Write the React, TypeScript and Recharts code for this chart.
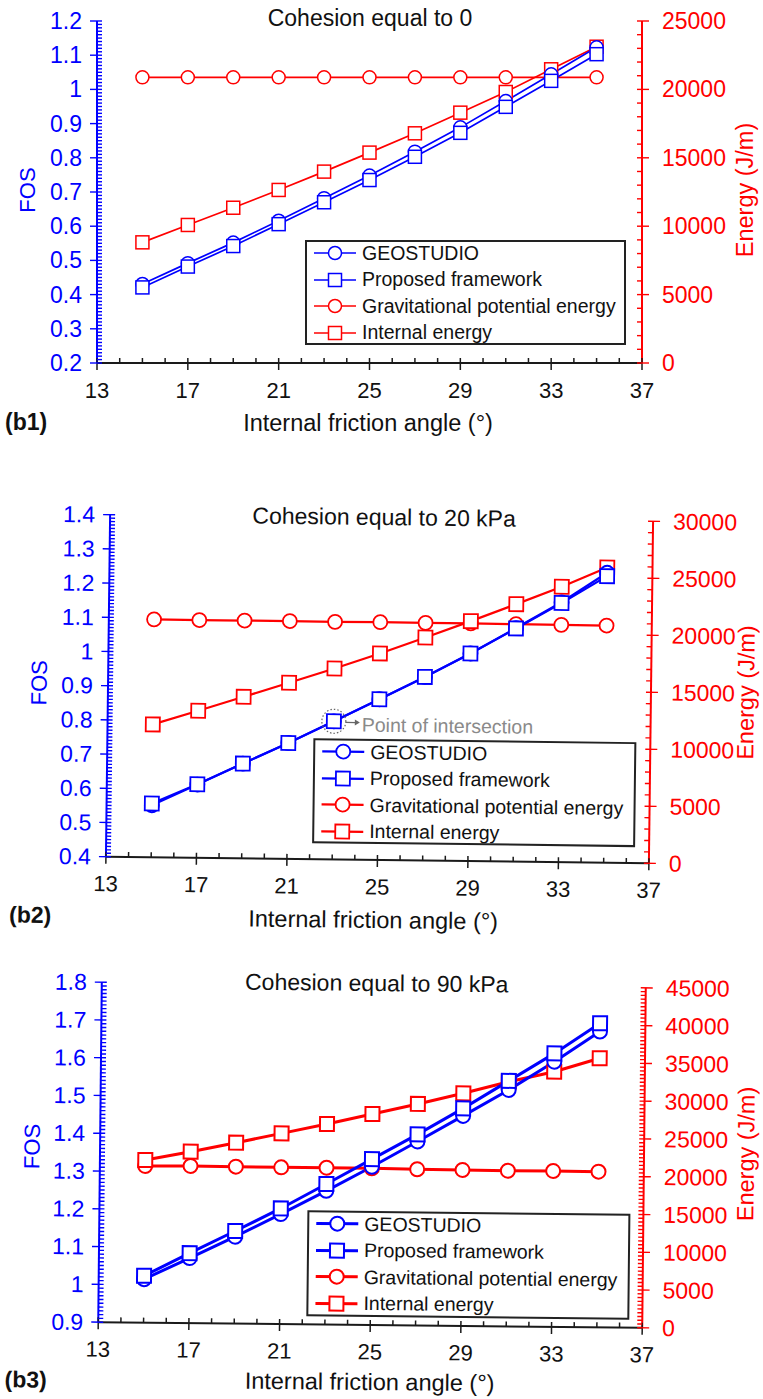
import React from 'react';
import { LineChart, Line, XAxis, YAxis, Legend, ReferenceDot } from 'recharts';

// ---- shared axis values ----
const FRICTION_ANGLES = [15, 17, 19, 21, 23, 25, 27, 29, 31, 33, 35];
const X_MAJOR_TICKS = [13, 17, 21, 25, 29, 33, 37];

// ---- (b1) cohesion = 0 ----
const FOS_GEOSTUDIO_C0 = [0.431, 0.492, 0.552, 0.616, 0.682, 0.748, 0.818, 0.889, 0.966, 1.044, 1.123];
const FOS_PROPOSED_C0 = [0.421, 0.482, 0.542, 0.606, 0.67, 0.735, 0.803, 0.873, 0.949, 1.025, 1.103];
const GPE_C0 = [20880, 20880, 20880, 20880, 20880, 20880, 20880, 20880, 20880, 20880, 20880];
const IE_C0 = [8820, 10090, 11350, 12650, 13990, 15380, 16790, 18300, 19810, 21470, 23120];
const FOS_TICKS_C0 = [0.2, 0.3, 0.4, 0.5, 0.6, 0.7, 0.8, 0.9, 1, 1.1, 1.2];
const ENERGY_TICKS_C0 = [0, 5000, 10000, 15000, 20000, 25000];

// ---- (b2) cohesion = 20 kPa ----
const FOS_GEOSTUDIO_C20 = [0.552, 0.614, 0.677, 0.739, 0.804, 0.87, 0.937, 1.007, 1.083, 1.16, 1.248];
const FOS_PROPOSED_C20 = [0.557, 0.615, 0.677, 0.739, 0.804, 0.87, 0.937, 1.007, 1.082, 1.158, 1.238];
const GPE_C20 = [20860, 20850, 20860, 20860, 20840, 20860, 20850, 20850, 20830, 20820, 20810];
const IE_C20 = [11650, 12900, 14170, 15450, 16750, 18120, 19570, 21050, 22590, 24160, 25900];
const FOS_TICKS_C20 = [0.4, 0.5, 0.6, 0.7, 0.8, 0.9, 1, 1.1, 1.2, 1.3, 1.4];
const ENERGY_TICKS_C20 = [0, 5000, 10000, 15000, 20000, 25000, 30000];

// ---- (b3) cohesion = 90 kPa ----
const FOS_GEOSTUDIO_C90 = [1.015, 1.072, 1.13, 1.191, 1.254, 1.319, 1.387, 1.456, 1.526, 1.602, 1.683];
const FOS_PROPOSED_C90 = [1.024, 1.085, 1.145, 1.206, 1.272, 1.339, 1.406, 1.476, 1.55, 1.624, 1.705];
const GPE_C90 = [20730, 20790, 20770, 20740, 20750, 20740, 20670, 20640, 20610, 20630, 20610];
const IE_C90 = [21520, 22690, 23940, 25240, 26540, 27930, 29320, 30790, 32390, 33780, 35620];
const FOS_TICKS_C90 = [0.9, 1, 1.1, 1.2, 1.3, 1.4, 1.5, 1.6, 1.7, 1.8];
const ENERGY_TICKS_C90 = [0, 5000, 10000, 15000, 20000, 25000, 30000, 35000, 40000, 45000];

const LEGEND_ITEMS = [
  { key: 'geo', label: 'GEOSTUDIO', color: '#0000ff', shape: 'circle' },
  { key: 'prop', label: 'Proposed framework', color: '#0000ff', shape: 'square' },
  { key: 'gpe', label: 'Gravitational potential energy', color: '#ff0000', shape: 'circle' },
  { key: 'ie', label: 'Internal energy', color: '#ff0000', shape: 'square' },
];

const FONT = '"Liberation Sans", Arial, Helvetica, sans-serif';
const BLUE = '#0000ff';
const RED = '#ff0000';
const DARK = '#1a1a1a';
const CHART_W = 763;
const LEFT_W = 60;
const RIGHT_W = 80;
const X_H = 40;

type Row = { angle: number; geo: number; prop: number; gpe: number; ie: number };

const buildRows = (geo: number[], prop: number[], gpe: number[], ie: number[]): Row[] =>
  FRICTION_ANGLES.map((angle, i) => ({ angle, geo: geo[i], prop: prop[i], gpe: gpe[i], ie: ie[i] }));

// every tick position between min and max (majors + minors)
const tickRange = (min: number, max: number, step: number) => {
  const n = Math.round((max - min) / step);
  return Array.from({ length: n + 1 }, (_, k) => Number((min + k * step).toFixed(6)));
};

const isMajor = (majors: number[], v: number) => majors.some((m) => Math.abs(m - v) < 1e-6);

type PanelCfg = {
  top: number;
  height: number;
  rotate: number;
  origin: [number, number];
  plot: { left: number; right: number; top: number; bottom: number };
  rows: Row[];
  fosTicks: number[];
  fosStep: number;
  energyTicks: number[];
  energyStep: number;
  title: string;
  titlePos: [number, number];
  tag: string;
  tagPos: [number, number];
  xTitlePos: [number, number];
  fosPos: [number, number];
  energyPos: [number, number];
  legendBox: [number, number, number, number];
  lineWidth: number;
  markerStroke: number;
  r: number;
  sq: number;
  intersectionAngle?: number;
  intersectionFos?: number;
};

const XTick = (props: any) => {
  const { x, y, payload } = props;
  const v = payload.value;
  const major = isMajor(X_MAJOR_TICKS, v);
  return (
    <g>
      <line x1={x} x2={x} y1={y - 5} y2={major ? y + 7 : y} stroke={DARK} strokeWidth={1.5} />
      {major && (
        <text x={x} y={y + 27} textAnchor="middle" dominantBaseline="central" fontSize={22} fontFamily={FONT} fill="#111">
          {v}
        </text>
      )}
    </g>
  );
};

const makeLeftTick = (majors: number[]) => (props: any) => {
  const { x, y, payload } = props;
  const v = payload.value;
  const major = isMajor(majors, v);
  return (
    <g>
      <line x1={major ? x - 7 : x} x2={x + 5} y1={y} y2={y} stroke={BLUE} strokeWidth={1.4} />
      {major && (
        <text x={x - 15} y={y} textAnchor="end" dominantBaseline="central" fontSize={23} fontFamily={FONT} fill={BLUE}>
          {String(v)}
        </text>
      )}
    </g>
  );
};

const makeRightTick = (majors: number[]) => (props: any) => {
  const { x, y, payload } = props;
  const v = payload.value;
  const major = isMajor(majors, v);
  return (
    <g>
      <line x1={x - 5} x2={major ? x + 7 : x} y1={y} y2={y} stroke={RED} strokeWidth={1.4} />
      {major && (
        <text x={x + 20} y={y} textAnchor="start" dominantBaseline="central" fontSize={23} fontFamily={FONT} fill={RED}>
          {String(v)}
        </text>
      )}
    </g>
  );
};

const circleDot = (color: string, r: number, sw: number) => (p: any) => (
  <circle key={`c-${p.index}`} cx={p.cx} cy={p.cy} r={r} fill="#fff" stroke={color} strokeWidth={sw} />
);

const squareDot = (color: string, s: number, sw: number) => (p: any) => (
  <rect key={`s-${p.index}`} x={p.cx - s / 2} y={p.cy - s / 2} width={s} height={s} fill="#fff" stroke={color} strokeWidth={sw} />
);

const LegendBox = ({ cfg }: { cfg: PanelCfg }) => {
  const [, , w, h] = cfg.legendBox;
  return (
    <div
      style={{
        width: w,
        height: h,
        boxSizing: 'border-box',
        border: '2px solid #222',
        background: '#fff',
        position: 'relative',
        fontFamily: FONT,
        fontSize: 19.5,
        color: '#111',
      }}
    >
      {LEGEND_ITEMS.map((it, i) => (
        <div
          key={it.key}
          style={{ position: 'absolute', left: 5, top: 11 + i * 26.6 - 12, height: 24, display: 'flex', alignItems: 'center', whiteSpace: 'nowrap' }}
        >
          <svg width={46} height={24} style={{ display: 'block' }}>
            <line x1={2} x2={44} y1={12} y2={12} stroke={it.color} strokeWidth={cfg.lineWidth} />
            {it.shape === 'circle' ? (
              <circle cx={23} cy={12} r={cfg.r} fill="#fff" stroke={it.color} strokeWidth={cfg.markerStroke} />
            ) : (
              <rect x={23 - cfg.sq / 2} y={12 - cfg.sq / 2} width={cfg.sq} height={cfg.sq} fill="#fff" stroke={it.color} strokeWidth={cfg.markerStroke} />
            )}
          </svg>
          <span style={{ marginLeft: 4 }}>{it.label}</span>
        </div>
      ))}
    </div>
  );
};

const PanelTexts = ({ cfg }: { cfg: PanelCfg }) => (
  <g fontFamily={FONT}>
    <text x={cfg.titlePos[0]} y={cfg.titlePos[1]} textAnchor="middle" dominantBaseline="central" fontSize={23} fill="#111">
      {cfg.title}
    </text>
    <text x={cfg.xTitlePos[0]} y={cfg.xTitlePos[1]} textAnchor="middle" dominantBaseline="central" fontSize={23.5} fill="#111">
      Internal friction angle (°)
    </text>
    <text x={cfg.tagPos[0]} y={cfg.tagPos[1]} textAnchor="start" dominantBaseline="central" fontSize={23} fontWeight="bold" fill="#111">
      {cfg.tag}
    </text>
  </g>
);

const IntersectionLabel = (p: any) => {
  const vb = p.viewBox || {};
  const cx = vb.cx !== undefined ? vb.cx : vb.x + vb.width / 2;
  const cy = vb.cy !== undefined ? vb.cy : vb.y + vb.height / 2;
  return (
    <g>
      <line x1={cx + 12} x2={cx + 22} y1={cy + 1} y2={cy + 1} stroke="#666" strokeWidth={1.2} />
      <path d={`M ${cx + 26} ${cy + 1} L ${cx + 21} ${cy - 2} L ${cx + 21} ${cy + 4} Z`} fill="#666" />
      <text x={cx + 28} y={cy + 3} dominantBaseline="central" fontSize={19.5} fontFamily={FONT} fill="#8a8a8a">
        Point of intersection
      </text>
    </g>
  );
};

const Panel = ({ cfg }: { cfg: PanelCfg }) => {
  const margin = {
    top: cfg.plot.top,
    left: cfg.plot.left - LEFT_W,
    right: CHART_W - cfg.plot.right - RIGHT_W,
    bottom: cfg.height - cfg.plot.bottom - X_H,
  };
  const fosDomain: [number, number] = [cfg.fosTicks[0], cfg.fosTicks[cfg.fosTicks.length - 1]];
  const energyDomain: [number, number] = [cfg.energyTicks[0], cfg.energyTicks[cfg.energyTicks.length - 1]];
  const [lx, ly, lw, lh] = cfg.legendBox;
  return (
    <div
      style={{
        position: 'absolute',
        left: 0,
        top: cfg.top,
        width: CHART_W,
        height: cfg.height,
        transform: `rotate(${cfg.rotate}deg)`,
        transformOrigin: `${cfg.origin[0]}px ${cfg.origin[1]}px`,
      }}
    >
      <LineChart width={CHART_W} height={cfg.height} data={cfg.rows} margin={margin}>
        <XAxis
          dataKey="angle"
          type="number"
          domain={[13, 37]}
          ticks={tickRange(13, 37, 1)}
          interval={0}
          tickSize={0}
          tickMargin={0}
          height={X_H}
          axisLine={{ stroke: DARK, strokeWidth: 2 }}
          tickLine={false}
          tick={XTick}
          label={() => <PanelTexts cfg={cfg} />}
        />
        <YAxis
          yAxisId="fos"
          orientation="left"
          type="number"
          domain={fosDomain}
          ticks={tickRange(fosDomain[0], fosDomain[1], cfg.fosStep)}
          interval={0}
          tickSize={0}
          tickMargin={0}
          width={LEFT_W}
          axisLine={{ stroke: BLUE, strokeWidth: 2 }}
          tickLine={false}
          tick={makeLeftTick(cfg.fosTicks)}
          label={() => (
            <text
              x={cfg.fosPos[0]}
              y={cfg.fosPos[1]}
              transform={`rotate(-90 ${cfg.fosPos[0]} ${cfg.fosPos[1]})`}
              textAnchor="middle"
              dominantBaseline="central"
              fontSize={22}
              fontFamily={FONT}
              fill={BLUE}
            >
              FOS
            </text>
          )}
        />
        <YAxis
          yAxisId="energy"
          orientation="right"
          type="number"
          domain={energyDomain}
          ticks={tickRange(energyDomain[0], energyDomain[1], cfg.energyStep)}
          interval={0}
          tickSize={0}
          tickMargin={0}
          width={RIGHT_W}
          axisLine={{ stroke: RED, strokeWidth: 2 }}
          tickLine={false}
          tick={makeRightTick(cfg.energyTicks)}
          label={() => (
            <text
              x={cfg.energyPos[0]}
              y={cfg.energyPos[1]}
              transform={`rotate(-90 ${cfg.energyPos[0]} ${cfg.energyPos[1]})`}
              textAnchor="middle"
              dominantBaseline="central"
              fontSize={23.5}
              fontFamily={FONT}
              fill={RED}
            >
              Energy (J/m)
            </text>
          )}
        />
        <Legend
          layout="vertical"
          align="center"
          verticalAlign="middle"
          wrapperStyle={{ left: lx, top: ly, width: lw, height: lh }}
          content={() => <LegendBox cfg={cfg} />}
        />
        <Line
          yAxisId="energy"
          dataKey="gpe"
          stroke={RED}
          strokeWidth={cfg.lineWidth}
          dot={circleDot(RED, cfg.r, cfg.markerStroke)}
          isAnimationActive={false}
        />
        <Line
          yAxisId="energy"
          dataKey="ie"
          stroke={RED}
          strokeWidth={cfg.lineWidth}
          dot={squareDot(RED, cfg.sq, cfg.markerStroke)}
          isAnimationActive={false}
        />
        <Line
          yAxisId="fos"
          dataKey="geo"
          stroke={BLUE}
          strokeWidth={cfg.lineWidth}
          dot={circleDot(BLUE, cfg.r, cfg.markerStroke)}
          isAnimationActive={false}
        />
        <Line
          yAxisId="fos"
          dataKey="prop"
          stroke={BLUE}
          strokeWidth={cfg.lineWidth}
          dot={squareDot(BLUE, cfg.sq, cfg.markerStroke)}
          isAnimationActive={false}
        />
        {cfg.intersectionAngle !== undefined && cfg.intersectionFos !== undefined && (
          <ReferenceDot
            yAxisId="fos"
            x={cfg.intersectionAngle}
            y={cfg.intersectionFos}
            r={12}
            fill="none"
            stroke="#666"
            strokeWidth={1.2}
            strokeDasharray="1.5 2"
            label={IntersectionLabel}
          />
        )}
      </LineChart>
    </div>
  );
};

const PANELS: PanelCfg[] = [
  {
    top: 0,
    height: 445,
    rotate: 0,
    origin: [370, 192],
    plot: { left: 97, right: 642, top: 21, bottom: 363 },
    rows: buildRows(FOS_GEOSTUDIO_C0, FOS_PROPOSED_C0, GPE_C0, IE_C0),
    fosTicks: FOS_TICKS_C0,
    fosStep: 0.01,
    energyTicks: ENERGY_TICKS_C0,
    energyStep: 1000,
    title: 'Cohesion equal to 0',
    titlePos: [370, 18],
    tag: '(b1)',
    tagPos: [5, 422],
    xTitlePos: [368, 423],
    fosPos: [27, 190],
    energyPos: [745, 190],
    legendBox: [305, 240, 321, 105],
    lineWidth: 1.7,
    markerStroke: 1.5,
    r: 6.5,
    sq: 13,
  },
  {
    top: 470,
    height: 465,
    rotate: 0.7,
    origin: [379.5, 219],
    plot: { left: 108, right: 651, top: 48, bottom: 390 },
    rows: buildRows(FOS_GEOSTUDIO_C20, FOS_PROPOSED_C20, GPE_C20, IE_C20),
    fosTicks: FOS_TICKS_C20,
    fosStep: 0.01,
    energyTicks: ENERGY_TICKS_C20,
    energyStep: 1000,
    title: 'Cohesion equal to 20 kPa',
    titlePos: [382, 47],
    tag: '(b2)',
    tagPos: [12, 449],
    xTitlePos: [376, 450],
    fosPos: [39, 217],
    energyPos: [746, 218],
    legendBox: [314, 269, 323, 105],
    lineWidth: 2.2,
    markerStroke: 1.8,
    r: 7,
    sq: 14,
    intersectionAngle: FRICTION_ANGLES[4],
    intersectionFos: FOS_PROPOSED_C20[4],
  },
  {
    top: 940,
    height: 459,
    rotate: 0.6,
    origin: [372, 215],
    plot: { left: 100, right: 644, top: 45, bottom: 385 },
    rows: buildRows(FOS_GEOSTUDIO_C90, FOS_PROPOSED_C90, GPE_C90, IE_C90),
    fosTicks: FOS_TICKS_C90,
    fosStep: 0.01,
    energyTicks: ENERGY_TICKS_C90,
    energyStep: 500,
    title: 'Cohesion equal to 90 kPa',
    titlePos: [375, 43],
    tag: '(b3)',
    tagPos: [7, 443],
    xTitlePos: [372, 442],
    fosPos: [32, 210],
    energyPos: [746, 210],
    legendBox: [308, 271, 323, 106],
    lineWidth: 3,
    markerStroke: 2,
    r: 7,
    sq: 14,
  },
];

export default function App() {
  return (
    <div style={{ position: 'absolute', left: 0, top: 0, width: CHART_W, height: 1399, background: '#fff', overflow: 'hidden' }}>
      {PANELS.map((cfg) => (
        <Panel key={cfg.tag} cfg={cfg} />
      ))}
    </div>
  );
}
